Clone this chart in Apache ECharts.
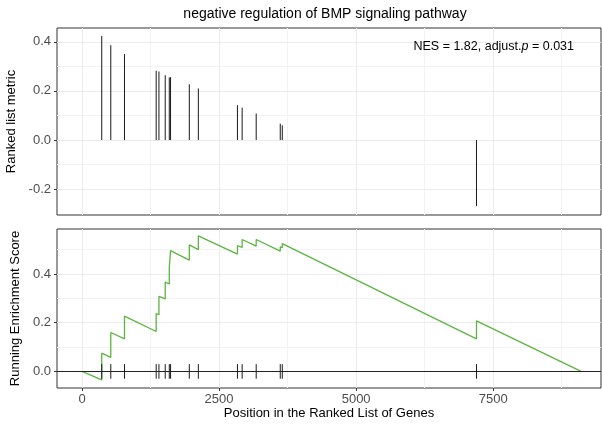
<!DOCTYPE html>
<html>
<head>
<meta charset="utf-8">
<script src="https://cdn.jsdelivr.net/npm/echarts@6/dist/echarts.min.js"></script>
<style>
html,body{margin:0;padding:0;background:#fff;}
#chart{width:602px;height:424px;}
</style>
</head>
<body>
<div id="chart"></div>
<script>
// ---- data ----
var chartTitle = 'negative regulation of BMP signaling pathway';
var xTicks = [0, 2500, 5000, 7500];
var xMinorTicks = [1250, 3750, 6250, 8750];
var metricTicks = [-0.2, 0.0, 0.2, 0.4];
var metricMinorTicks = [-0.1, 0.1, 0.3];
var esTicks = [0.0, 0.2, 0.4];
var esMinorTicks = [0.1, 0.3, 0.5];
var hitPositions = [360, 525, 775, 1353, 1403, 1518, 1592, 1615, 1957, 2122, 2835, 2921, 3177, 3616, 3653, 7195];
var rankedMetric = [0.424, 0.386, 0.350, 0.282, 0.279, 0.264, 0.255, 0.256, 0.227, 0.210, 0.142, 0.132, 0.108, 0.067, 0.060, -0.269];
var esPositions = [0, 360, 360, 525, 525, 775, 775, 1353, 1353, 1403, 1403, 1518, 1518, 1592, 1592, 1615, 1615, 1957, 1957, 2122, 2122, 2835, 2835, 2921, 2921, 3177, 3177, 3616, 3616, 3653, 3653, 7195, 7195, 9103];
var esValues = [0, -0.035, 0.075, 0.058, 0.160, 0.134, 0.227, 0.164, 0.238, 0.233, 0.308, 0.298, 0.367, 0.359, 0.427, 0.425, 0.496, 0.457, 0.520, 0.500, 0.557, 0.482, 0.517, 0.509, 0.542, 0.515, 0.542, 0.494, 0.512, 0.508, 0.525, 0.134, 0.208, 0];
var nesText = 'NES = 1.82, adjust.';
var pText = '0.031';

// ---- build ----
var metricData = hitPositions.map(function (p, i) { return [p, rankedMetric[i]]; });
var hitData = hitPositions.map(function (p) { return [p]; });
var esData = esPositions.map(function (p, i) { return [p, esValues[i]]; });

var FONT = '"Liberation Sans", Arial, sans-serif';
var XMIN = -456, XMAX = 9466;
var majorGrid = '#EBEBEB', minorGrid = '#F3F3F3';

function xAxisDef(gridIndex, ticks, showLabels, minor) {
  return {
    type: 'value', gridIndex: gridIndex, min: XMIN, max: XMAX, position: 'bottom', offset: 0,
    axisLine: { show: false, onZero: false },
    axisTick: { show: showLabels, length: 3, customValues: ticks, lineStyle: { color: '#333' } },
    axisLabel: { show: showLabels, customValues: ticks, fontFamily: FONT, fontSize: 13, color: '#4D4D4D', margin: 5,
      formatter: function (v) { return String(Math.round(v)); } },
    splitLine: { show: true, lineStyle: { color: minor ? minorGrid : majorGrid, width: 1 } },
    z: minor ? 0 : 1
  };
}
function yAxisDef(gridIndex, min, max, ticks, minor, name) {
  return {
    type: 'value', gridIndex: gridIndex, min: min, max: max, position: 'left', offset: 0,
    axisLine: { show: false, onZero: false },
    axisTick: { show: !minor, length: 3, customValues: ticks, lineStyle: { color: '#333' } },
    axisLabel: { show: !minor, customValues: ticks, fontFamily: FONT, fontSize: 13, color: '#4D4D4D', margin: 6,
      formatter: function (v) { return v.toFixed(1); } },
    splitLine: { show: true, lineStyle: { color: minor ? minorGrid : majorGrid, width: 1 } },
    name: name, nameLocation: 'middle', nameGap: 30,
    nameTextStyle: { fontFamily: FONT, fontSize: 13, color: '#000' },
    z: minor ? 0 : 1
  };
}

var chart = echarts.init(document.getElementById('chart'), null, { renderer: 'canvas' });
var xMain1 = xAxisDef(1, xTicks, true, false);
xMain1.name = 'Position in the Ranked List of Genes';
xMain1.nameLocation = 'middle';
xMain1.nameGap = 18;
xMain1.nameTextStyle = { fontFamily: FONT, fontSize: 13, color: '#000' };

var option = {
  animation: false,
  backgroundColor: '#fff',
  title: [
    { text: chartTitle, left: 320, top: 2, textAlign: 'center',
      textStyle: { fontFamily: FONT, fontSize: 14, fontWeight: 'normal', color: '#000' } },
    { text: '{a|' + nesText + '}{p|p}{a| = ' + pText + '}', right: 23, top: 35,
      textStyle: { fontWeight: 'normal', rich: {
        a: { fontFamily: FONT, fontSize: 12.5, fontWeight: 'normal', color: '#000' },
        p: { fontFamily: FONT, fontSize: 12.5, fontWeight: 'normal', fontStyle: 'italic', color: '#000' } } } }
  ],
  grid: [
    { left: 57, right: 1, top: 28, height: 187, show: true, borderColor: '#333', borderWidth: 1, backgroundColor: 'transparent', containLabel: false, outerBoundsMode: 'none' },
    { left: 57, right: 1, top: 229, height: 159, show: true, borderColor: '#333', borderWidth: 1, backgroundColor: 'transparent', containLabel: false, outerBoundsMode: 'none' }
  ],
  xAxis: [
    xAxisDef(0, xMinorTicks, false, true), xAxisDef(0, xTicks, false, false),
    xAxisDef(1, xMinorTicks, false, true), xMain1
  ],
  yAxis: [
    yAxisDef(0, -0.305, 0.456, metricMinorTicks, true, ''), yAxisDef(0, -0.305, 0.456, metricTicks, false, 'Ranked list metric'),
    yAxisDef(1, -0.068, 0.585, esMinorTicks, true, ''), yAxisDef(1, -0.068, 0.585, esTicks, false, 'Running Enrichment Score')
  ],
  series: [
    { type: 'custom', xAxisIndex: 1, yAxisIndex: 1, data: metricData, silent: true,
      renderItem: function (params, api) {
        var a = api.coord([api.value(0), 0]);
        var b = api.coord([api.value(0), api.value(1)]);
        return { type: 'line', shape: { x1: a[0], y1: a[1], x2: b[0], y2: b[1] },
          style: { stroke: '#1a1a1a', lineWidth: 1 } };
      } },
    { type: 'line', xAxisIndex: 3, yAxisIndex: 3, data: esData, showSymbol: false, silent: true,
      lineStyle: { color: '#5CB540', width: 1.3 }, z: 3,
      markLine: { silent: true, symbol: 'none', label: { show: false },
        lineStyle: { color: '#222', width: 1, type: 'solid' }, data: [{ yAxis: 0 }] } },
    { type: 'custom', xAxisIndex: 3, yAxisIndex: 3, data: hitData, silent: true, z: 4,
      renderItem: function (params, api) {
        var a = api.coord([api.value(0), -0.03]);
        var b = api.coord([api.value(0), 0.03]);
        return { type: 'line', shape: { x1: a[0], y1: a[1], x2: b[0], y2: b[1] },
          style: { stroke: '#1a1a1a', lineWidth: 1 } };
      } }
  ]
};
chart.setOption(option);
</script>
</body>
</html>
